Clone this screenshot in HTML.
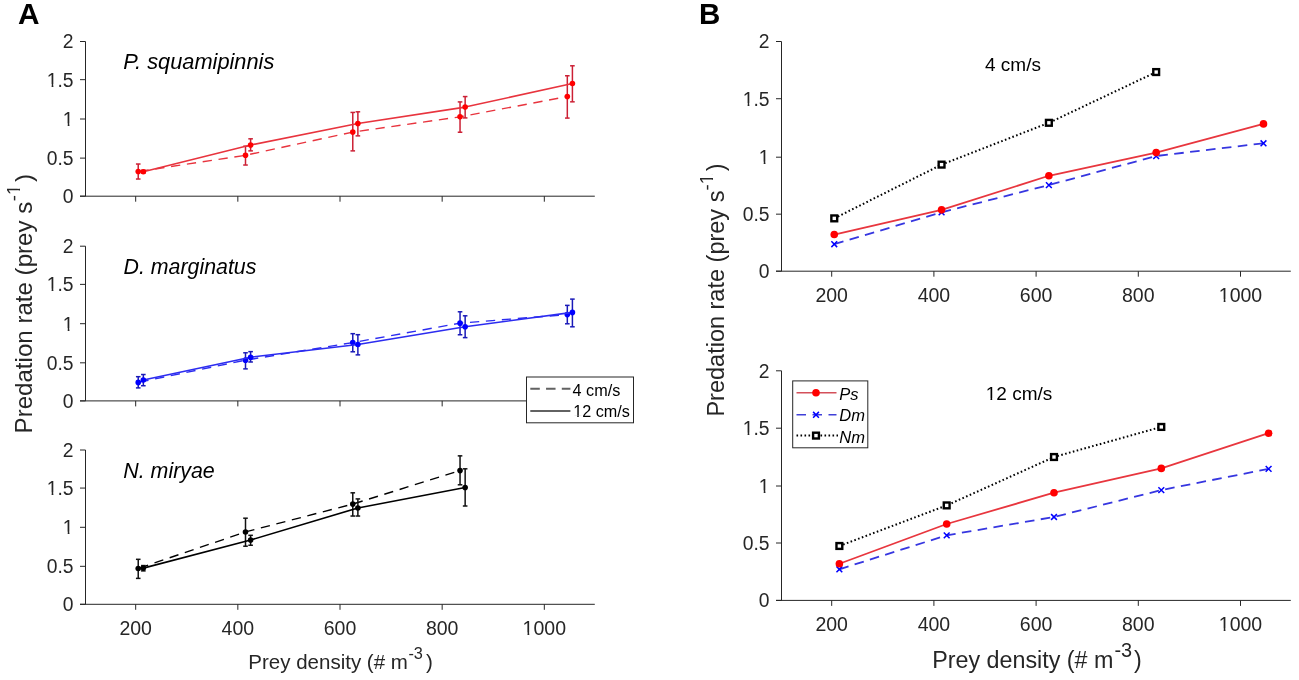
<!DOCTYPE html>
<html><head><meta charset="utf-8"><title>Predation rate figure</title>
<style>
html,body{margin:0;padding:0;background:#fff;}
body{width:1299px;height:680px;overflow:hidden;}
svg{display:block;font-family:"Liberation Sans", sans-serif;will-change:transform;}
</style></head>
<body>
<svg width="1299" height="680" viewBox="0 0 1299 680">
<defs><clipPath id="mk2"><path clip-rule="evenodd" d="M-3000,-3000H3000V3000H-3000ZM63.62,123.47H67.70V127.91H63.62ZM69.44,123.47H73.56V127.91H69.44Z"/></clipPath><clipPath id="mk3"><path clip-rule="evenodd" d="M-3000,-3000H3000V3000H-3000ZM47.54,84.14H51.62V88.58H47.54ZM53.37,84.14H57.48V88.58H53.37Z"/></clipPath><clipPath id="mk7"><path clip-rule="evenodd" d="M-3000,-3000H3000V3000H-3000ZM63.62,328.17H67.70V332.61H63.62ZM69.44,328.17H73.56V332.61H69.44Z"/></clipPath><clipPath id="mk8"><path clip-rule="evenodd" d="M-3000,-3000H3000V3000H-3000ZM47.54,288.84H51.62V293.28H47.54ZM53.37,288.84H57.48V293.28H53.37Z"/></clipPath><clipPath id="mk12"><path clip-rule="evenodd" d="M-3000,-3000H3000V3000H-3000ZM63.62,531.77H67.70V536.21H63.62ZM69.44,531.77H73.56V536.21H69.44Z"/></clipPath><clipPath id="mk13"><path clip-rule="evenodd" d="M-3000,-3000H3000V3000H-3000ZM47.54,492.54H51.62V496.98H47.54ZM53.37,492.54H57.48V496.98H53.37Z"/></clipPath><clipPath id="mk19"><path clip-rule="evenodd" d="M-3000,-3000H3000V3000H-3000ZM523.39,632.40H527.51V636.86H523.39ZM529.27,632.40H533.43V636.86H529.27Z"/></clipPath><clipPath id="mk22"><path clip-rule="evenodd" d="M-3000,-3000H3000V3000H-3000ZM759.62,161.67H763.70V166.11H759.62ZM765.44,161.67H769.56V166.11H765.44Z"/></clipPath><clipPath id="mk23"><path clip-rule="evenodd" d="M-3000,-3000H3000V3000H-3000ZM743.54,103.19H747.62V107.63H743.54ZM749.37,103.19H753.48V107.63H749.37Z"/></clipPath><clipPath id="mk29"><path clip-rule="evenodd" d="M-3000,-3000H3000V3000H-3000ZM1219.57,299.30H1223.69V303.76H1219.57ZM1225.45,299.30H1229.61V303.76H1225.45Z"/></clipPath><clipPath id="mk32"><path clip-rule="evenodd" d="M-3000,-3000H3000V3000H-3000ZM759.62,490.47H763.70V494.91H759.62ZM765.44,490.47H769.56V494.91H765.44Z"/></clipPath><clipPath id="mk33"><path clip-rule="evenodd" d="M-3000,-3000H3000V3000H-3000ZM743.54,432.67H747.62V437.11H743.54ZM749.37,432.67H753.48V437.11H749.37Z"/></clipPath><clipPath id="mk39"><path clip-rule="evenodd" d="M-3000,-3000H3000V3000H-3000ZM1219.57,628.50H1223.69V632.96H1219.57ZM1225.45,628.50H1229.61V632.96H1225.45Z"/></clipPath><clipPath id="mk46"><path clip-rule="evenodd" d="M-3000,-3000H3000V3000H-3000ZM986.48,397.98H990.49V402.40H986.48ZM992.21,397.98H996.26V402.40H992.21Z"/></clipPath><clipPath id="mk54"><path clip-rule="evenodd" d="M-3000,-3000H3000V3000H-3000ZM-194.36,-2.38H-190.45V2.00H-194.36ZM-188.78,-2.38H-184.83V2.00H-188.78Z"/></clipPath><clipPath id="mk57"><path clip-rule="evenodd" d="M-3000,-3000H3000V3000H-3000ZM-183.66,-2.38H-179.75V2.00H-183.66ZM-178.08,-2.38H-174.13V2.00H-178.08Z"/></clipPath><clipPath id="mk60"><path clip-rule="evenodd" d="M-3000,-3000H3000V3000H-3000ZM573.83,415.19H577.26V419.40H573.83ZM578.72,415.19H582.18V419.40H578.72Z"/></clipPath></defs>
<rect x="0" y="0" width="1299" height="680" fill="#fff"/>
<line x1="85.5" y1="41.5" x2="85.5" y2="196.2" stroke="#262626" stroke-width="1"/>
<line x1="80" y1="196.2" x2="594.8" y2="196.2" stroke="#262626" stroke-width="1"/>
<line x1="80" y1="196.2" x2="85.5" y2="196.2" stroke="#262626" stroke-width="1"/>
<text x="73.6" y="203.11" text-anchor="end" font-size="19.3" fill="#262626">0</text>
<line x1="80" y1="158.12" x2="85.5" y2="158.12" stroke="#262626" stroke-width="1"/>
<text x="73.6" y="165.03" text-anchor="end" font-size="19.3" fill="#262626">0.5</text>
<line x1="80" y1="119" x2="85.5" y2="119" stroke="#262626" stroke-width="1"/>
<text clip-path="url(#mk2)" x="73.6" y="125.91" text-anchor="end" font-size="19.3" fill="#262626">1</text>
<line x1="80" y1="79.67" x2="85.5" y2="79.67" stroke="#262626" stroke-width="1"/>
<text clip-path="url(#mk3)" x="73.6" y="86.58" text-anchor="end" font-size="19.3" fill="#262626">1.5</text>
<line x1="80" y1="41.5" x2="85.5" y2="41.5" stroke="#262626" stroke-width="1"/>
<text x="73.6" y="48.41" text-anchor="end" font-size="19.3" fill="#262626">2</text>
<line x1="135.68" y1="196.2" x2="135.68" y2="201.7" stroke="#262626" stroke-width="1"/>
<line x1="237.84" y1="196.2" x2="237.84" y2="201.7" stroke="#262626" stroke-width="1"/>
<line x1="340" y1="196.2" x2="340" y2="201.7" stroke="#262626" stroke-width="1"/>
<line x1="442.16" y1="196.2" x2="442.16" y2="201.7" stroke="#262626" stroke-width="1"/>
<line x1="544.32" y1="196.2" x2="544.32" y2="201.7" stroke="#262626" stroke-width="1"/>
<line x1="85.5" y1="246.2" x2="85.5" y2="400.9" stroke="#262626" stroke-width="1"/>
<line x1="80" y1="400.9" x2="594.8" y2="400.9" stroke="#262626" stroke-width="1"/>
<line x1="80" y1="400.9" x2="85.5" y2="400.9" stroke="#262626" stroke-width="1"/>
<text x="73.6" y="407.81" text-anchor="end" font-size="19.3" fill="#262626">0</text>
<line x1="80" y1="362.82" x2="85.5" y2="362.82" stroke="#262626" stroke-width="1"/>
<text x="73.6" y="369.73" text-anchor="end" font-size="19.3" fill="#262626">0.5</text>
<line x1="80" y1="323.7" x2="85.5" y2="323.7" stroke="#262626" stroke-width="1"/>
<text clip-path="url(#mk7)" x="73.6" y="330.61" text-anchor="end" font-size="19.3" fill="#262626">1</text>
<line x1="80" y1="284.38" x2="85.5" y2="284.38" stroke="#262626" stroke-width="1"/>
<text clip-path="url(#mk8)" x="73.6" y="291.28" text-anchor="end" font-size="19.3" fill="#262626">1.5</text>
<line x1="80" y1="246.2" x2="85.5" y2="246.2" stroke="#262626" stroke-width="1"/>
<text x="73.6" y="253.11" text-anchor="end" font-size="19.3" fill="#262626">2</text>
<line x1="135.68" y1="400.9" x2="135.68" y2="406.4" stroke="#262626" stroke-width="1"/>
<line x1="237.84" y1="400.9" x2="237.84" y2="406.4" stroke="#262626" stroke-width="1"/>
<line x1="340" y1="400.9" x2="340" y2="406.4" stroke="#262626" stroke-width="1"/>
<line x1="442.16" y1="400.9" x2="442.16" y2="406.4" stroke="#262626" stroke-width="1"/>
<line x1="544.32" y1="400.9" x2="544.32" y2="406.4" stroke="#262626" stroke-width="1"/>
<line x1="85.5" y1="450" x2="85.5" y2="604.3" stroke="#262626" stroke-width="1"/>
<line x1="80" y1="604.3" x2="594.8" y2="604.3" stroke="#262626" stroke-width="1"/>
<line x1="80" y1="604.3" x2="85.5" y2="604.3" stroke="#262626" stroke-width="1"/>
<text x="73.6" y="611.21" text-anchor="end" font-size="19.3" fill="#262626">0</text>
<line x1="80" y1="566.32" x2="85.5" y2="566.32" stroke="#262626" stroke-width="1"/>
<text x="73.6" y="573.23" text-anchor="end" font-size="19.3" fill="#262626">0.5</text>
<line x1="80" y1="527.3" x2="85.5" y2="527.3" stroke="#262626" stroke-width="1"/>
<text clip-path="url(#mk12)" x="73.6" y="534.21" text-anchor="end" font-size="19.3" fill="#262626">1</text>
<line x1="80" y1="488.07" x2="85.5" y2="488.07" stroke="#262626" stroke-width="1"/>
<text clip-path="url(#mk13)" x="73.6" y="494.98" text-anchor="end" font-size="19.3" fill="#262626">1.5</text>
<line x1="80" y1="450" x2="85.5" y2="450" stroke="#262626" stroke-width="1"/>
<text x="73.6" y="456.91" text-anchor="end" font-size="19.3" fill="#262626">2</text>
<line x1="135.68" y1="604.3" x2="135.68" y2="609.8" stroke="#262626" stroke-width="1"/>
<text x="135.68" y="634.86" text-anchor="middle" font-size="19.5" fill="#262626">200</text>
<line x1="237.84" y1="604.3" x2="237.84" y2="609.8" stroke="#262626" stroke-width="1"/>
<text x="237.84" y="634.86" text-anchor="middle" font-size="19.5" fill="#262626">400</text>
<line x1="340" y1="604.3" x2="340" y2="609.8" stroke="#262626" stroke-width="1"/>
<text x="340" y="634.86" text-anchor="middle" font-size="19.5" fill="#262626">600</text>
<line x1="442.16" y1="604.3" x2="442.16" y2="609.8" stroke="#262626" stroke-width="1"/>
<text x="442.16" y="634.86" text-anchor="middle" font-size="19.5" fill="#262626">800</text>
<line x1="544.32" y1="604.3" x2="544.32" y2="609.8" stroke="#262626" stroke-width="1"/>
<text clip-path="url(#mk19)" x="544.32" y="634.86" text-anchor="middle" font-size="19.5" fill="#262626">1000</text>
<line x1="781.5" y1="41.5" x2="781.5" y2="271.2" stroke="#262626" stroke-width="1"/>
<line x1="776" y1="271.2" x2="1290.8" y2="271.2" stroke="#262626" stroke-width="1"/>
<line x1="776" y1="271.2" x2="781.5" y2="271.2" stroke="#262626" stroke-width="1"/>
<text x="769.6" y="278.11" text-anchor="end" font-size="19.3" fill="#262626">0</text>
<line x1="776" y1="214.17" x2="781.5" y2="214.17" stroke="#262626" stroke-width="1"/>
<text x="769.6" y="221.08" text-anchor="end" font-size="19.3" fill="#262626">0.5</text>
<line x1="776" y1="157.2" x2="781.5" y2="157.2" stroke="#262626" stroke-width="1"/>
<text clip-path="url(#mk22)" x="769.6" y="164.11" text-anchor="end" font-size="19.3" fill="#262626">1</text>
<line x1="776" y1="98.73" x2="781.5" y2="98.73" stroke="#262626" stroke-width="1"/>
<text clip-path="url(#mk23)" x="769.6" y="105.63" text-anchor="end" font-size="19.3" fill="#262626">1.5</text>
<line x1="776" y1="41.5" x2="781.5" y2="41.5" stroke="#262626" stroke-width="1"/>
<text x="769.6" y="48.41" text-anchor="end" font-size="19.3" fill="#262626">2</text>
<line x1="831.7" y1="271.2" x2="831.7" y2="276.7" stroke="#262626" stroke-width="1"/>
<text x="831.7" y="301.76" text-anchor="middle" font-size="19.5" fill="#262626">200</text>
<line x1="933.9" y1="271.2" x2="933.9" y2="276.7" stroke="#262626" stroke-width="1"/>
<text x="933.9" y="301.76" text-anchor="middle" font-size="19.5" fill="#262626">400</text>
<line x1="1036.1" y1="271.2" x2="1036.1" y2="276.7" stroke="#262626" stroke-width="1"/>
<text x="1036.1" y="301.76" text-anchor="middle" font-size="19.5" fill="#262626">600</text>
<line x1="1138.3" y1="271.2" x2="1138.3" y2="276.7" stroke="#262626" stroke-width="1"/>
<text x="1138.3" y="301.76" text-anchor="middle" font-size="19.5" fill="#262626">800</text>
<line x1="1240.5" y1="271.2" x2="1240.5" y2="276.7" stroke="#262626" stroke-width="1"/>
<text clip-path="url(#mk29)" x="1240.5" y="301.76" text-anchor="middle" font-size="19.5" fill="#262626">1000</text>
<line x1="781.5" y1="370.8" x2="781.5" y2="600.4" stroke="#262626" stroke-width="1"/>
<line x1="776" y1="600.4" x2="1290.8" y2="600.4" stroke="#262626" stroke-width="1"/>
<line x1="776" y1="600.4" x2="781.5" y2="600.4" stroke="#262626" stroke-width="1"/>
<text x="769.6" y="607.31" text-anchor="end" font-size="19.3" fill="#262626">0</text>
<line x1="776" y1="543" x2="781.5" y2="543" stroke="#262626" stroke-width="1"/>
<text x="769.6" y="549.91" text-anchor="end" font-size="19.3" fill="#262626">0.5</text>
<line x1="776" y1="486" x2="781.5" y2="486" stroke="#262626" stroke-width="1"/>
<text clip-path="url(#mk32)" x="769.6" y="492.91" text-anchor="end" font-size="19.3" fill="#262626">1</text>
<line x1="776" y1="428.2" x2="781.5" y2="428.2" stroke="#262626" stroke-width="1"/>
<text clip-path="url(#mk33)" x="769.6" y="435.11" text-anchor="end" font-size="19.3" fill="#262626">1.5</text>
<line x1="776" y1="370.8" x2="781.5" y2="370.8" stroke="#262626" stroke-width="1"/>
<text x="769.6" y="377.71" text-anchor="end" font-size="19.3" fill="#262626">2</text>
<line x1="831.7" y1="600.4" x2="831.7" y2="605.9" stroke="#262626" stroke-width="1"/>
<text x="831.7" y="630.96" text-anchor="middle" font-size="19.5" fill="#262626">200</text>
<line x1="933.9" y1="600.4" x2="933.9" y2="605.9" stroke="#262626" stroke-width="1"/>
<text x="933.9" y="630.96" text-anchor="middle" font-size="19.5" fill="#262626">400</text>
<line x1="1036.1" y1="600.4" x2="1036.1" y2="605.9" stroke="#262626" stroke-width="1"/>
<text x="1036.1" y="630.96" text-anchor="middle" font-size="19.5" fill="#262626">600</text>
<line x1="1138.3" y1="600.4" x2="1138.3" y2="605.9" stroke="#262626" stroke-width="1"/>
<text x="1138.3" y="630.96" text-anchor="middle" font-size="19.5" fill="#262626">800</text>
<line x1="1240.5" y1="600.4" x2="1240.5" y2="605.9" stroke="#262626" stroke-width="1"/>
<text clip-path="url(#mk39)" x="1240.5" y="630.96" text-anchor="middle" font-size="19.5" fill="#262626">1000</text>
<polyline points="138.23,171.53 245.5,155.28 352.77,132.08 460.04,116.84 567.31,96.57" fill="none" stroke="#e8343e" stroke-width="1.4" stroke-dasharray="9.3 6.7" stroke-dashoffset="-1.2" stroke-linecap="butt" stroke-linejoin="round"/>
<line x1="138.23" y1="179.03" x2="138.23" y2="164.02" stroke="#cc2035" stroke-width="1.5"/>
<line x1="135.93" y1="179.03" x2="140.53" y2="179.03" stroke="#cc2035" stroke-width="1.5"/>
<line x1="135.93" y1="164.02" x2="140.53" y2="164.02" stroke="#cc2035" stroke-width="1.5"/>
<circle cx="138.23" cy="171.53" r="2.8" fill="#ff0000"/>
<line x1="245.5" y1="165.03" x2="245.5" y2="146.23" stroke="#cc2035" stroke-width="1.5"/>
<line x1="243.2" y1="165.03" x2="247.8" y2="165.03" stroke="#cc2035" stroke-width="1.5"/>
<line x1="243.2" y1="146.23" x2="247.8" y2="146.23" stroke="#cc2035" stroke-width="1.5"/>
<circle cx="245.5" cy="155.28" r="2.8" fill="#ff0000"/>
<line x1="352.77" y1="150.87" x2="352.77" y2="112.43" stroke="#cc2035" stroke-width="1.5"/>
<line x1="350.47" y1="150.87" x2="355.07" y2="150.87" stroke="#cc2035" stroke-width="1.5"/>
<line x1="350.47" y1="112.43" x2="355.07" y2="112.43" stroke="#cc2035" stroke-width="1.5"/>
<circle cx="352.77" cy="132.08" r="2.8" fill="#ff0000"/>
<line x1="460.04" y1="132.23" x2="460.04" y2="101.91" stroke="#cc2035" stroke-width="1.5"/>
<line x1="457.74" y1="132.23" x2="462.34" y2="132.23" stroke="#cc2035" stroke-width="1.5"/>
<line x1="457.74" y1="101.91" x2="462.34" y2="101.91" stroke="#cc2035" stroke-width="1.5"/>
<circle cx="460.04" cy="116.84" r="2.8" fill="#ff0000"/>
<line x1="567.31" y1="118.08" x2="567.31" y2="75.77" stroke="#cc2035" stroke-width="1.5"/>
<line x1="565.01" y1="118.08" x2="569.61" y2="118.08" stroke="#cc2035" stroke-width="1.5"/>
<line x1="565.01" y1="75.77" x2="569.61" y2="75.77" stroke="#cc2035" stroke-width="1.5"/>
<circle cx="567.31" cy="96.57" r="2.8" fill="#ff0000"/>
<polyline points="143.34,171.68 250.61,144.99 357.88,123.57 465.15,107.09 572.41,83.5" fill="none" stroke="#e8343e" stroke-width="1.6" stroke-linecap="butt" stroke-linejoin="round"/>
<line x1="143.34" y1="173" x2="143.34" y2="170.29" stroke="#cc2035" stroke-width="1.5"/>
<line x1="141.04" y1="173" x2="145.64" y2="173" stroke="#cc2035" stroke-width="1.5"/>
<line x1="141.04" y1="170.29" x2="145.64" y2="170.29" stroke="#cc2035" stroke-width="1.5"/>
<circle cx="143.34" cy="171.68" r="2.8" fill="#ff0000"/>
<line x1="250.61" y1="150.87" x2="250.61" y2="138.81" stroke="#cc2035" stroke-width="1.5"/>
<line x1="248.31" y1="150.87" x2="252.91" y2="150.87" stroke="#cc2035" stroke-width="1.5"/>
<line x1="248.31" y1="138.81" x2="252.91" y2="138.81" stroke="#cc2035" stroke-width="1.5"/>
<circle cx="250.61" cy="144.99" r="2.8" fill="#ff0000"/>
<line x1="357.88" y1="135.87" x2="357.88" y2="111.81" stroke="#cc2035" stroke-width="1.5"/>
<line x1="355.58" y1="135.87" x2="360.18" y2="135.87" stroke="#cc2035" stroke-width="1.5"/>
<line x1="355.58" y1="111.81" x2="360.18" y2="111.81" stroke="#cc2035" stroke-width="1.5"/>
<circle cx="357.88" cy="123.57" r="2.8" fill="#ff0000"/>
<line x1="465.15" y1="117.92" x2="465.15" y2="96.57" stroke="#cc2035" stroke-width="1.5"/>
<line x1="462.85" y1="117.92" x2="467.45" y2="117.92" stroke="#cc2035" stroke-width="1.5"/>
<line x1="462.85" y1="96.57" x2="467.45" y2="96.57" stroke="#cc2035" stroke-width="1.5"/>
<circle cx="465.15" cy="107.09" r="2.8" fill="#ff0000"/>
<line x1="572.41" y1="101.83" x2="572.41" y2="65.79" stroke="#cc2035" stroke-width="1.5"/>
<line x1="570.11" y1="101.83" x2="574.71" y2="101.83" stroke="#cc2035" stroke-width="1.5"/>
<line x1="570.11" y1="65.79" x2="574.71" y2="65.79" stroke="#cc2035" stroke-width="1.5"/>
<circle cx="572.41" cy="83.5" r="2.8" fill="#ff0000"/>
<polyline points="138.23,382.41 245.5,360.14 352.77,342.58 460.04,323.16 567.31,314.58" fill="none" stroke="#2c2cf0" stroke-width="1.4" stroke-dasharray="9.3 6.7" stroke-dashoffset="-1.2" stroke-linecap="butt" stroke-linejoin="round"/>
<line x1="138.23" y1="387.91" x2="138.23" y2="376.69" stroke="#1a1ab8" stroke-width="1.5"/>
<line x1="135.93" y1="387.91" x2="140.53" y2="387.91" stroke="#1a1ab8" stroke-width="1.5"/>
<line x1="135.93" y1="376.69" x2="140.53" y2="376.69" stroke="#1a1ab8" stroke-width="1.5"/>
<circle cx="138.23" cy="382.41" r="2.8" fill="#0000ff"/>
<line x1="245.5" y1="368.88" x2="245.5" y2="352.79" stroke="#1a1ab8" stroke-width="1.5"/>
<line x1="243.2" y1="368.88" x2="247.8" y2="368.88" stroke="#1a1ab8" stroke-width="1.5"/>
<line x1="243.2" y1="352.79" x2="247.8" y2="352.79" stroke="#1a1ab8" stroke-width="1.5"/>
<circle cx="245.5" cy="360.14" r="2.8" fill="#0000ff"/>
<line x1="352.77" y1="351.78" x2="352.77" y2="333.68" stroke="#1a1ab8" stroke-width="1.5"/>
<line x1="350.47" y1="351.78" x2="355.07" y2="351.78" stroke="#1a1ab8" stroke-width="1.5"/>
<line x1="350.47" y1="333.68" x2="355.07" y2="333.68" stroke="#1a1ab8" stroke-width="1.5"/>
<circle cx="352.77" cy="342.58" r="2.8" fill="#0000ff"/>
<line x1="460.04" y1="334.77" x2="460.04" y2="311.79" stroke="#1a1ab8" stroke-width="1.5"/>
<line x1="457.74" y1="334.77" x2="462.34" y2="334.77" stroke="#1a1ab8" stroke-width="1.5"/>
<line x1="457.74" y1="311.79" x2="462.34" y2="311.79" stroke="#1a1ab8" stroke-width="1.5"/>
<circle cx="460.04" cy="323.16" r="2.8" fill="#0000ff"/>
<line x1="567.31" y1="323.78" x2="567.31" y2="305.37" stroke="#1a1ab8" stroke-width="1.5"/>
<line x1="565.01" y1="323.78" x2="569.61" y2="323.78" stroke="#1a1ab8" stroke-width="1.5"/>
<line x1="565.01" y1="305.37" x2="569.61" y2="305.37" stroke="#1a1ab8" stroke-width="1.5"/>
<circle cx="567.31" cy="314.58" r="2.8" fill="#0000ff"/>
<polyline points="143.34,380.02 250.61,357.2 357.88,344.43 465.15,326.8 572.41,312.41" fill="none" stroke="#2c2cf0" stroke-width="1.6" stroke-linecap="butt" stroke-linejoin="round"/>
<line x1="143.34" y1="385.74" x2="143.34" y2="374.52" stroke="#1a1ab8" stroke-width="1.5"/>
<line x1="141.04" y1="385.74" x2="145.64" y2="385.74" stroke="#1a1ab8" stroke-width="1.5"/>
<line x1="141.04" y1="374.52" x2="145.64" y2="374.52" stroke="#1a1ab8" stroke-width="1.5"/>
<circle cx="143.34" cy="380.02" r="2.8" fill="#0000ff"/>
<line x1="250.61" y1="361.99" x2="250.61" y2="351.63" stroke="#1a1ab8" stroke-width="1.5"/>
<line x1="248.31" y1="361.99" x2="252.91" y2="361.99" stroke="#1a1ab8" stroke-width="1.5"/>
<line x1="248.31" y1="351.63" x2="252.91" y2="351.63" stroke="#1a1ab8" stroke-width="1.5"/>
<circle cx="250.61" cy="357.2" r="2.8" fill="#0000ff"/>
<line x1="357.88" y1="354.88" x2="357.88" y2="334.69" stroke="#1a1ab8" stroke-width="1.5"/>
<line x1="355.58" y1="354.88" x2="360.18" y2="354.88" stroke="#1a1ab8" stroke-width="1.5"/>
<line x1="355.58" y1="334.69" x2="360.18" y2="334.69" stroke="#1a1ab8" stroke-width="1.5"/>
<circle cx="357.88" cy="344.43" r="2.8" fill="#0000ff"/>
<line x1="465.15" y1="337.63" x2="465.15" y2="315.81" stroke="#1a1ab8" stroke-width="1.5"/>
<line x1="462.85" y1="337.63" x2="467.45" y2="337.63" stroke="#1a1ab8" stroke-width="1.5"/>
<line x1="462.85" y1="315.81" x2="467.45" y2="315.81" stroke="#1a1ab8" stroke-width="1.5"/>
<circle cx="465.15" cy="326.8" r="2.8" fill="#0000ff"/>
<line x1="572.41" y1="326.8" x2="572.41" y2="299.11" stroke="#1a1ab8" stroke-width="1.5"/>
<line x1="570.11" y1="326.8" x2="574.71" y2="326.8" stroke="#1a1ab8" stroke-width="1.5"/>
<line x1="570.11" y1="299.11" x2="574.71" y2="299.11" stroke="#1a1ab8" stroke-width="1.5"/>
<circle cx="572.41" cy="312.41" r="2.8" fill="#0000ff"/>
<polyline points="138.23,568.5 245.5,531.93 352.77,504.08 460.04,470.6" fill="none" stroke="#000000" stroke-width="1.4" stroke-dasharray="9.3 6.7" stroke-dashoffset="-1.2" stroke-linecap="butt" stroke-linejoin="round"/>
<line x1="138.23" y1="578.38" x2="138.23" y2="559.32" stroke="#111111" stroke-width="1.5"/>
<line x1="135.93" y1="578.38" x2="140.53" y2="578.38" stroke="#111111" stroke-width="1.5"/>
<line x1="135.93" y1="559.32" x2="140.53" y2="559.32" stroke="#111111" stroke-width="1.5"/>
<circle cx="138.23" cy="568.5" r="2.8" fill="#000000"/>
<line x1="245.5" y1="546.21" x2="245.5" y2="518.2" stroke="#111111" stroke-width="1.5"/>
<line x1="243.2" y1="546.21" x2="247.8" y2="546.21" stroke="#111111" stroke-width="1.5"/>
<line x1="243.2" y1="518.2" x2="247.8" y2="518.2" stroke="#111111" stroke-width="1.5"/>
<circle cx="245.5" cy="531.93" r="2.8" fill="#000000"/>
<line x1="352.77" y1="516.04" x2="352.77" y2="492.82" stroke="#111111" stroke-width="1.5"/>
<line x1="350.47" y1="516.04" x2="355.07" y2="516.04" stroke="#111111" stroke-width="1.5"/>
<line x1="350.47" y1="492.82" x2="355.07" y2="492.82" stroke="#111111" stroke-width="1.5"/>
<circle cx="352.77" cy="504.08" r="2.8" fill="#000000"/>
<line x1="460.04" y1="484.79" x2="460.04" y2="455.86" stroke="#111111" stroke-width="1.5"/>
<line x1="457.74" y1="484.79" x2="462.34" y2="484.79" stroke="#111111" stroke-width="1.5"/>
<line x1="457.74" y1="455.86" x2="462.34" y2="455.86" stroke="#111111" stroke-width="1.5"/>
<circle cx="460.04" cy="470.6" r="2.8" fill="#000000"/>
<polyline points="143.34,568.12 250.61,540.03 357.88,507.94 465.15,487.49" fill="none" stroke="#000000" stroke-width="1.6" stroke-linecap="butt" stroke-linejoin="round"/>
<line x1="143.34" y1="570.89" x2="143.34" y2="565.57" stroke="#111111" stroke-width="1.5"/>
<line x1="141.04" y1="570.89" x2="145.64" y2="570.89" stroke="#111111" stroke-width="1.5"/>
<line x1="141.04" y1="565.57" x2="145.64" y2="565.57" stroke="#111111" stroke-width="1.5"/>
<circle cx="143.34" cy="568.12" r="2.8" fill="#000000"/>
<line x1="250.61" y1="545.28" x2="250.61" y2="535.33" stroke="#111111" stroke-width="1.5"/>
<line x1="248.31" y1="545.28" x2="252.91" y2="545.28" stroke="#111111" stroke-width="1.5"/>
<line x1="248.31" y1="535.33" x2="252.91" y2="535.33" stroke="#111111" stroke-width="1.5"/>
<circle cx="250.61" cy="540.03" r="2.8" fill="#000000"/>
<line x1="357.88" y1="516.04" x2="357.88" y2="498.91" stroke="#111111" stroke-width="1.5"/>
<line x1="355.58" y1="516.04" x2="360.18" y2="516.04" stroke="#111111" stroke-width="1.5"/>
<line x1="355.58" y1="498.91" x2="360.18" y2="498.91" stroke="#111111" stroke-width="1.5"/>
<circle cx="357.88" cy="507.94" r="2.8" fill="#000000"/>
<line x1="465.15" y1="506.01" x2="465.15" y2="468.82" stroke="#111111" stroke-width="1.5"/>
<line x1="462.85" y1="506.01" x2="467.45" y2="506.01" stroke="#111111" stroke-width="1.5"/>
<line x1="462.85" y1="468.82" x2="467.45" y2="468.82" stroke="#111111" stroke-width="1.5"/>
<circle cx="465.15" cy="487.49" r="2.8" fill="#000000"/>
<polyline points="834.25,218.37 941.57,164.62 1048.88,122.81 1156.18,72.05" fill="none" stroke="#000" stroke-width="2" stroke-dasharray="1.6 2.4" stroke-linecap="butt" stroke-linejoin="round"/>
<polyline points="834.25,244.21 941.57,212.28 1048.88,185.06 1156.18,156.01 1263.49,143.26" fill="none" stroke="#3636e0" stroke-width="1.8" stroke-dasharray="9.6 6.4" stroke-linecap="butt" stroke-linejoin="round"/>
<polyline points="834.25,234.51 941.57,209.87 1048.88,175.76 1156.18,152.56 1263.49,123.9" fill="none" stroke="#e8363e" stroke-width="1.8" stroke-linecap="butt" stroke-linejoin="round"/>
<rect x="831.36" y="215.47" width="5.8" height="5.8" fill="#fff" stroke="#000" stroke-width="2.4"/>
<rect x="938.67" y="161.72" width="5.8" height="5.8" fill="#fff" stroke="#000" stroke-width="2.4"/>
<rect x="1045.97" y="119.91" width="5.8" height="5.8" fill="#fff" stroke="#000" stroke-width="2.4"/>
<rect x="1153.28" y="69.15" width="5.8" height="5.8" fill="#fff" stroke="#000" stroke-width="2.4"/>
<path d="M831.36,241.31L837.15,247.11M831.36,247.11L837.15,241.31" stroke="#0000ff" stroke-width="1.5" fill="none"/>
<path d="M938.67,209.38L944.47,215.18M938.67,215.18L944.47,209.38" stroke="#0000ff" stroke-width="1.5" fill="none"/>
<path d="M1045.97,182.16L1051.78,187.96M1045.97,187.96L1051.78,182.16" stroke="#0000ff" stroke-width="1.5" fill="none"/>
<path d="M1153.28,153.11L1159.09,158.91M1153.28,158.91L1159.09,153.11" stroke="#0000ff" stroke-width="1.5" fill="none"/>
<path d="M1260.59,140.36L1266.39,146.16M1260.59,146.16L1266.39,140.36" stroke="#0000ff" stroke-width="1.5" fill="none"/>
<circle cx="834.25" cy="234.51" r="3.8" fill="#ff0000"/>
<circle cx="941.57" cy="209.87" r="3.8" fill="#ff0000"/>
<circle cx="1048.88" cy="175.76" r="3.8" fill="#ff0000"/>
<circle cx="1156.18" cy="152.56" r="3.8" fill="#ff0000"/>
<circle cx="1263.49" cy="123.9" r="3.8" fill="#ff0000"/>
<polyline points="839.37,545.98 946.68,505.4 1053.99,457.01 1161.3,426.94" fill="none" stroke="#000" stroke-width="2" stroke-dasharray="1.6 2.4" stroke-linecap="butt" stroke-linejoin="round"/>
<polyline points="839.37,569.29 946.68,535.31 1053.99,517 1161.3,490.08 1268.61,468.84" fill="none" stroke="#3636e0" stroke-width="1.8" stroke-dasharray="9.6 6.4" stroke-linecap="butt" stroke-linejoin="round"/>
<polyline points="839.37,563.78 946.68,524 1053.99,492.72 1161.3,468.38 1268.61,433.19" fill="none" stroke="#e8363e" stroke-width="1.8" stroke-linecap="butt" stroke-linejoin="round"/>
<rect x="836.47" y="543.08" width="5.8" height="5.8" fill="#fff" stroke="#000" stroke-width="2.4"/>
<rect x="943.78" y="502.5" width="5.8" height="5.8" fill="#fff" stroke="#000" stroke-width="2.4"/>
<rect x="1051.09" y="454.11" width="5.8" height="5.8" fill="#fff" stroke="#000" stroke-width="2.4"/>
<rect x="1158.39" y="424.04" width="5.8" height="5.8" fill="#fff" stroke="#000" stroke-width="2.4"/>
<path d="M836.47,566.39L842.26,572.19M836.47,572.19L842.26,566.39" stroke="#0000ff" stroke-width="1.5" fill="none"/>
<path d="M943.78,532.41L949.58,538.21M943.78,538.21L949.58,532.41" stroke="#0000ff" stroke-width="1.5" fill="none"/>
<path d="M1051.09,514.1L1056.89,519.9M1051.09,519.9L1056.89,514.1" stroke="#0000ff" stroke-width="1.5" fill="none"/>
<path d="M1158.39,487.18L1164.2,492.98M1158.39,492.98L1164.2,487.18" stroke="#0000ff" stroke-width="1.5" fill="none"/>
<path d="M1265.7,465.94L1271.51,471.74M1265.7,471.74L1271.51,465.94" stroke="#0000ff" stroke-width="1.5" fill="none"/>
<circle cx="839.37" cy="563.78" r="3.8" fill="#ff0000"/>
<circle cx="946.68" cy="524" r="3.8" fill="#ff0000"/>
<circle cx="1053.99" cy="492.72" r="3.8" fill="#ff0000"/>
<circle cx="1161.3" cy="468.38" r="3.8" fill="#ff0000"/>
<circle cx="1268.61" cy="433.19" r="3.8" fill="#ff0000"/>
<text x="17.9" y="24" font-size="29.8" font-weight="bold" fill="#000">A</text>
<text x="699.1" y="24" font-size="29.5" font-weight="bold" fill="#000">B</text>
<text x="123.3" y="68.95" font-size="21.8" font-style="italic" fill="#000">P. squamipinnis</text>
<text x="123.55" y="273.8" font-size="21.35" font-style="italic" fill="#000">D. marginatus</text>
<text x="123.25" y="477.5" font-size="21.4" font-style="italic" fill="#000">N. miryae</text>
<text x="1013" y="71.2" text-anchor="middle" font-size="19" fill="#000">4 cm/s</text>
<text clip-path="url(#mk46)" x="1019" y="400.4" text-anchor="middle" font-size="19" fill="#000">12 cm/s</text>
<text x="248.36" y="668.5" font-size="20.5" fill="#262626">Prey density (# m</text>
<text x="408.45" y="658.8" font-size="16.3" fill="#262626">-3</text>
<text x="426" y="668.5" font-size="20.5" fill="#262626">)</text>
<text x="932.2" y="667.6" font-size="23.3" fill="#262626">Prey density (# m</text>
<text x="1114.5" y="657.1" font-size="19.9" fill="#262626">-3</text>
<text x="1133.9" y="667.6" font-size="23.3" fill="#262626">)</text>
<text transform="translate(32.06,0) rotate(-90)" x="-433.43" y="0" font-size="24.1" fill="#262626">Predation rate (prey s</text>
<text clip-path="url(#mk54)" transform="translate(20.1,0) rotate(-90)" x="-201.24" y="0" font-size="18.5" fill="#262626">-1</text>
<text transform="translate(32.06,0) rotate(-90)" x="-182.04" y="0" font-size="24.1" fill="#262626">)</text>
<text transform="translate(724.1,0) rotate(-90)" x="-416.58" y="0" font-size="23.5" fill="#262626">Predation rate (prey s</text>
<text clip-path="url(#mk57)" transform="translate(713.1,0) rotate(-90)" x="-190.54" y="0" font-size="18.5" fill="#262626">-1</text>
<text transform="translate(724.1,0) rotate(-90)" x="-171.2" y="0" font-size="23.5" fill="#262626">)</text>
<rect x="526.5" y="377" width="107" height="45.8" fill="#fff" stroke="#262626" stroke-width="1"/>
<line x1="530.3" y1="388.75" x2="570.4" y2="388.75" stroke="#626262" stroke-width="2" stroke-dasharray="9.5 6.25"/>
<line x1="530.3" y1="410.9" x2="570.4" y2="410.9" stroke="#626262" stroke-width="2"/>
<text x="572.6" y="396.4" font-size="16.2" fill="#000">4 cm/s</text>
<text clip-path="url(#mk60)" x="573.2" y="417.4" font-size="16.2" fill="#000">12 cm/s</text>
<rect x="792.7" y="380.9" width="75.1" height="66.9" fill="#fff" stroke="#262626" stroke-width="1"/>
<line x1="796.5" y1="392.75" x2="836.5" y2="392.75" stroke="#d4505a" stroke-width="1.6"/>
<circle cx="816" cy="392.75" r="3.8" fill="#ff0000"/>
<line x1="796.5" y1="414.8" x2="836.5" y2="414.8" stroke="#4040d8" stroke-width="1.6" stroke-dasharray="9.5 6.5"/>
<path d="M813.1,411.9L818.9,417.7M813.1,417.7L818.9,411.9" stroke="#0000ff" stroke-width="1.5" fill="none"/>
<line x1="796.5" y1="435.6" x2="838" y2="435.6" stroke="#000" stroke-width="2" stroke-dasharray="1.6 2.4"/>
<rect x="813.1" y="432.7" width="5.8" height="5.8" fill="#fff" stroke="#000" stroke-width="2.4"/>
<text x="839.35" y="399.5" font-size="16.5" font-style="italic" fill="#000">Ps</text>
<text x="839.35" y="421.3" font-size="16.5" font-style="italic" fill="#000">Dm</text>
<text x="839.35" y="443.1" font-size="16.5" font-style="italic" fill="#000">Nm</text>
</svg>
</body></html>
